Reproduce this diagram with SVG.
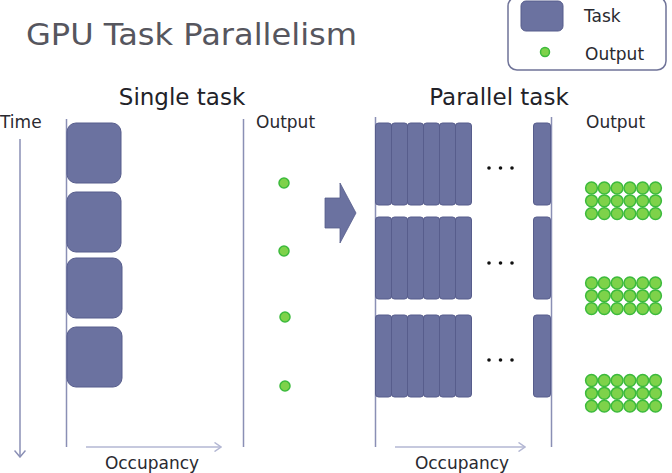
<svg xmlns="http://www.w3.org/2000/svg" width="672" height="473" viewBox="0 0 672 473">
<defs>
<style>
text{font-family:"DejaVu Sans","Verdana",sans-serif;fill:#333338}
.title{font-size:30px;fill:#56565e}
.head{font-size:23px;fill:#222228}
.lbl{font-size:17px;fill:#2a2a30}
.task{fill:#6b72a0;stroke:#575d8c;stroke-width:1}
.out{fill:#7ed24a;stroke:#3cba3c;stroke-width:1.5}
.axis{stroke:#8a8fb5;stroke-width:1.5;fill:none}
.occ{stroke:#b3b7d3;stroke-width:1.5;fill:none}
.dot{fill:#111}
</style>
<marker id="ahTime" viewBox="0 0 8 12" refX="7" refY="6" markerWidth="8" markerHeight="12" markerUnits="userSpaceOnUse" orient="auto">
<path d="M0.5,0.5 L7,6 L0.5,11.5" fill="none" stroke="#8a8fb5" stroke-width="1.5"/>
</marker>
<marker id="ahOcc" viewBox="0 0 8 10" refX="7" refY="5" markerWidth="8" markerHeight="10" markerUnits="userSpaceOnUse" orient="auto">
<path d="M0.5,0.5 L7,5 L0.5,9.5" fill="none" stroke="#b3b7d3" stroke-width="1.5"/>
</marker>
<g id="grid">
<circle class="out" cx="0" cy="0" r="5.9"/><circle class="out" cx="12.8" cy="0" r="5.9"/><circle class="out" cx="25.6" cy="0" r="5.9"/><circle class="out" cx="38.4" cy="0" r="5.9"/><circle class="out" cx="51.2" cy="0" r="5.9"/><circle class="out" cx="64" cy="0" r="5.9"/>
<circle class="out" cx="0" cy="12.8" r="5.9"/><circle class="out" cx="12.8" cy="12.8" r="5.9"/><circle class="out" cx="25.6" cy="12.8" r="5.9"/><circle class="out" cx="38.4" cy="12.8" r="5.9"/><circle class="out" cx="51.2" cy="12.8" r="5.9"/><circle class="out" cx="64" cy="12.8" r="5.9"/>
<circle class="out" cx="0" cy="25.6" r="5.9"/><circle class="out" cx="12.8" cy="25.6" r="5.9"/><circle class="out" cx="25.6" cy="25.6" r="5.9"/><circle class="out" cx="38.4" cy="25.6" r="5.9"/><circle class="out" cx="51.2" cy="25.6" r="5.9"/><circle class="out" cx="64" cy="25.6" r="5.9"/>
</g>
</defs>
<rect width="672" height="473" fill="#ffffff"/>

<text class="title" x="26" y="45" textLength="331" lengthAdjust="spacingAndGlyphs">GPU Task Parallelism</text>

<g id="legend">
<rect x="508" y="-3" width="158" height="73" rx="9" fill="#fff" stroke="#6f7398" stroke-width="1.5"/>
<rect class="task" x="521" y="1" width="42" height="30" rx="5"/>
<text class="lbl" x="584" y="22">Task</text>
<circle class="out" cx="545" cy="52" r="4.5"/>
<text class="lbl" x="585" y="60">Output</text>
</g>

<text class="head" x="182" y="105" text-anchor="middle">Single task</text>
<text class="head" x="499" y="105" text-anchor="middle">Parallel task</text>
<text class="lbl" x="0" y="128">Time</text>
<text class="lbl" x="256" y="128">Output</text>
<text class="lbl" x="586" y="128">Output</text>
<text class="lbl" x="152" y="468.5" text-anchor="middle">Occupancy</text>
<text class="lbl" x="462" y="468.5" text-anchor="middle">Occupancy</text>

<g id="connectors">
<line class="axis" x1="20" y1="139" x2="20" y2="457" marker-end="url(#ahTime)"/>
<line class="axis" x1="66.5" y1="119" x2="66.5" y2="447"/>
<line class="axis" x1="243.5" y1="119" x2="243.5" y2="447"/>
<line class="occ" x1="86" y1="447" x2="221" y2="447" marker-end="url(#ahOcc)"/>
<line class="axis" x1="375.5" y1="117" x2="375.5" y2="447"/>
<line class="axis" x1="551.5" y1="117" x2="551.5" y2="447"/>
<line class="occ" x1="395" y1="447" x2="525" y2="447" marker-end="url(#ahOcc)"/>
<path id="bigArrow" d="M325,198 L340,198 L340,183 L356,213 L340,243 L340,228 L325,228 Z" fill="#6b72a0" stroke="#575d8c" stroke-width="0.8"/>
</g>

<g id="single-tasks">
<rect class="task" x="67" y="123" width="54" height="60" rx="9"/>
<rect class="task" x="67" y="192" width="54" height="60" rx="9"/>
<rect class="task" x="67" y="258" width="55" height="60" rx="9"/>
<rect class="task" x="67" y="327" width="55" height="60" rx="9"/>
</g>

<g id="single-outputs">
<circle class="out" cx="284" cy="183" r="5"/>
<circle class="out" cx="284" cy="251" r="5"/>
<circle class="out" cx="285" cy="317" r="5"/>
<circle class="out" cx="285" cy="386" r="5"/>
</g>

<g id="parallel-row1">
<rect class="task" x="375.5" y="123" width="16" height="82" rx="3"/>
<rect class="task" x="391.5" y="123" width="16" height="82" rx="3"/>
<rect class="task" x="407.5" y="123" width="16" height="82" rx="3"/>
<rect class="task" x="423.5" y="123" width="16" height="82" rx="3"/>
<rect class="task" x="439.5" y="123" width="16" height="82" rx="3"/>
<rect class="task" x="455.5" y="123" width="16" height="82" rx="3"/>
<rect class="task" x="533.5" y="123" width="17" height="82" rx="3"/>
<circle class="dot" cx="489" cy="168" r="1.8"/><circle class="dot" cx="500.5" cy="168" r="1.8"/><circle class="dot" cx="512" cy="168" r="1.8"/>
</g>
<g id="parallel-row2">
<rect class="task" x="375.5" y="217" width="16" height="82" rx="3"/>
<rect class="task" x="391.5" y="217" width="16" height="82" rx="3"/>
<rect class="task" x="407.5" y="217" width="16" height="82" rx="3"/>
<rect class="task" x="423.5" y="217" width="16" height="82" rx="3"/>
<rect class="task" x="439.5" y="217" width="16" height="82" rx="3"/>
<rect class="task" x="455.5" y="217" width="16" height="82" rx="3"/>
<rect class="task" x="533.5" y="217" width="17" height="82" rx="3"/>
<circle class="dot" cx="489" cy="263" r="1.8"/><circle class="dot" cx="500.5" cy="263" r="1.8"/><circle class="dot" cx="512" cy="263" r="1.8"/>
</g>
<g id="parallel-row3">
<rect class="task" x="375.5" y="315" width="16" height="82" rx="3"/>
<rect class="task" x="391.5" y="315" width="16" height="82" rx="3"/>
<rect class="task" x="407.5" y="315" width="16" height="82" rx="3"/>
<rect class="task" x="423.5" y="315" width="16" height="82" rx="3"/>
<rect class="task" x="439.5" y="315" width="16" height="82" rx="3"/>
<rect class="task" x="455.5" y="315" width="16" height="82" rx="3"/>
<rect class="task" x="533.5" y="315" width="17" height="82" rx="3"/>
<circle class="dot" cx="489" cy="360" r="1.8"/><circle class="dot" cx="500.5" cy="360" r="1.8"/><circle class="dot" cx="512" cy="360" r="1.8"/>
</g>

<g id="parallel-outputs1"><use href="#grid" x="591.5" y="188"/></g>
<g id="parallel-outputs2"><use href="#grid" x="591.5" y="283"/></g>
<g id="parallel-outputs3"><use href="#grid" x="591.5" y="380.5"/></g>
</svg>
